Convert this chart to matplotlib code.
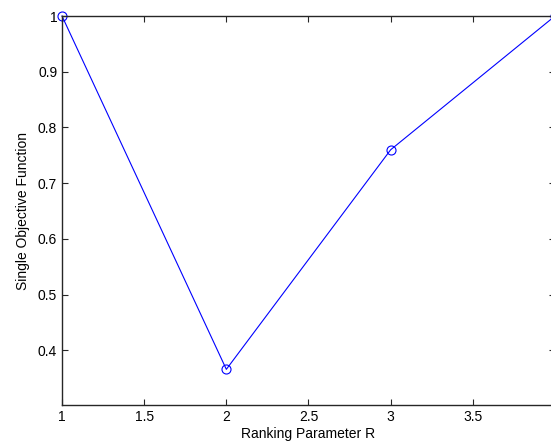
import matplotlib
matplotlib.use("Agg")
import matplotlib.pyplot as plt

r_values = [1, 2, 3, 4]
objective = [1.0, 0.366, 0.76, 1.0]
x_ticks = [1, 1.5, 2, 2.5, 3, 3.5]
x_tick_labels = ["1", "1.5", "2", "2.5", "3", "3.5"]
y_ticks = [0.4, 0.5, 0.6, 0.7, 0.8, 0.9, 1.0]
y_tick_labels = ["0.4", "0.5", "0.6", "0.7", "0.8", "0.9", "1"]

plt.rcParams['font.family'] = ['Liberation Sans', 'DejaVu Sans']
fig = plt.figure(figsize=(5.51, 4.45), dpi=100)
ax = fig.add_axes([62/551, 40/445, (555-62)/551, (405-16)/445])
ax.plot(r_values, objective, color=(0, 0, 1), linewidth=0.8,
        marker='o', markersize=6.5, markerfacecolor='none',
        markeredgecolor=(0, 0, 1), markeredgewidth=0.8, clip_on=False)
ax.set_xlim(1, 4)
ax.set_ylim(0.302, 1.0)
ax.set_xticks(x_ticks)
ax.set_xticklabels(x_tick_labels)
ax.set_yticks(y_ticks)
ax.set_yticklabels(y_tick_labels)
ax.tick_params(direction='in', top=True, right=True, length=4, width=0.8,
               labelsize=10, colors='#262626', labelcolor='black')
for s in ax.spines.values():
    s.set_linewidth(1.0)
    s.set_color('#262626')
ax.set_xlabel("Ranking Parameter R", fontsize=10, labelpad=2)
ax.set_ylabel("Single Objective Function", fontsize=10, labelpad=6)
fig.savefig("out.png", dpi=100)
